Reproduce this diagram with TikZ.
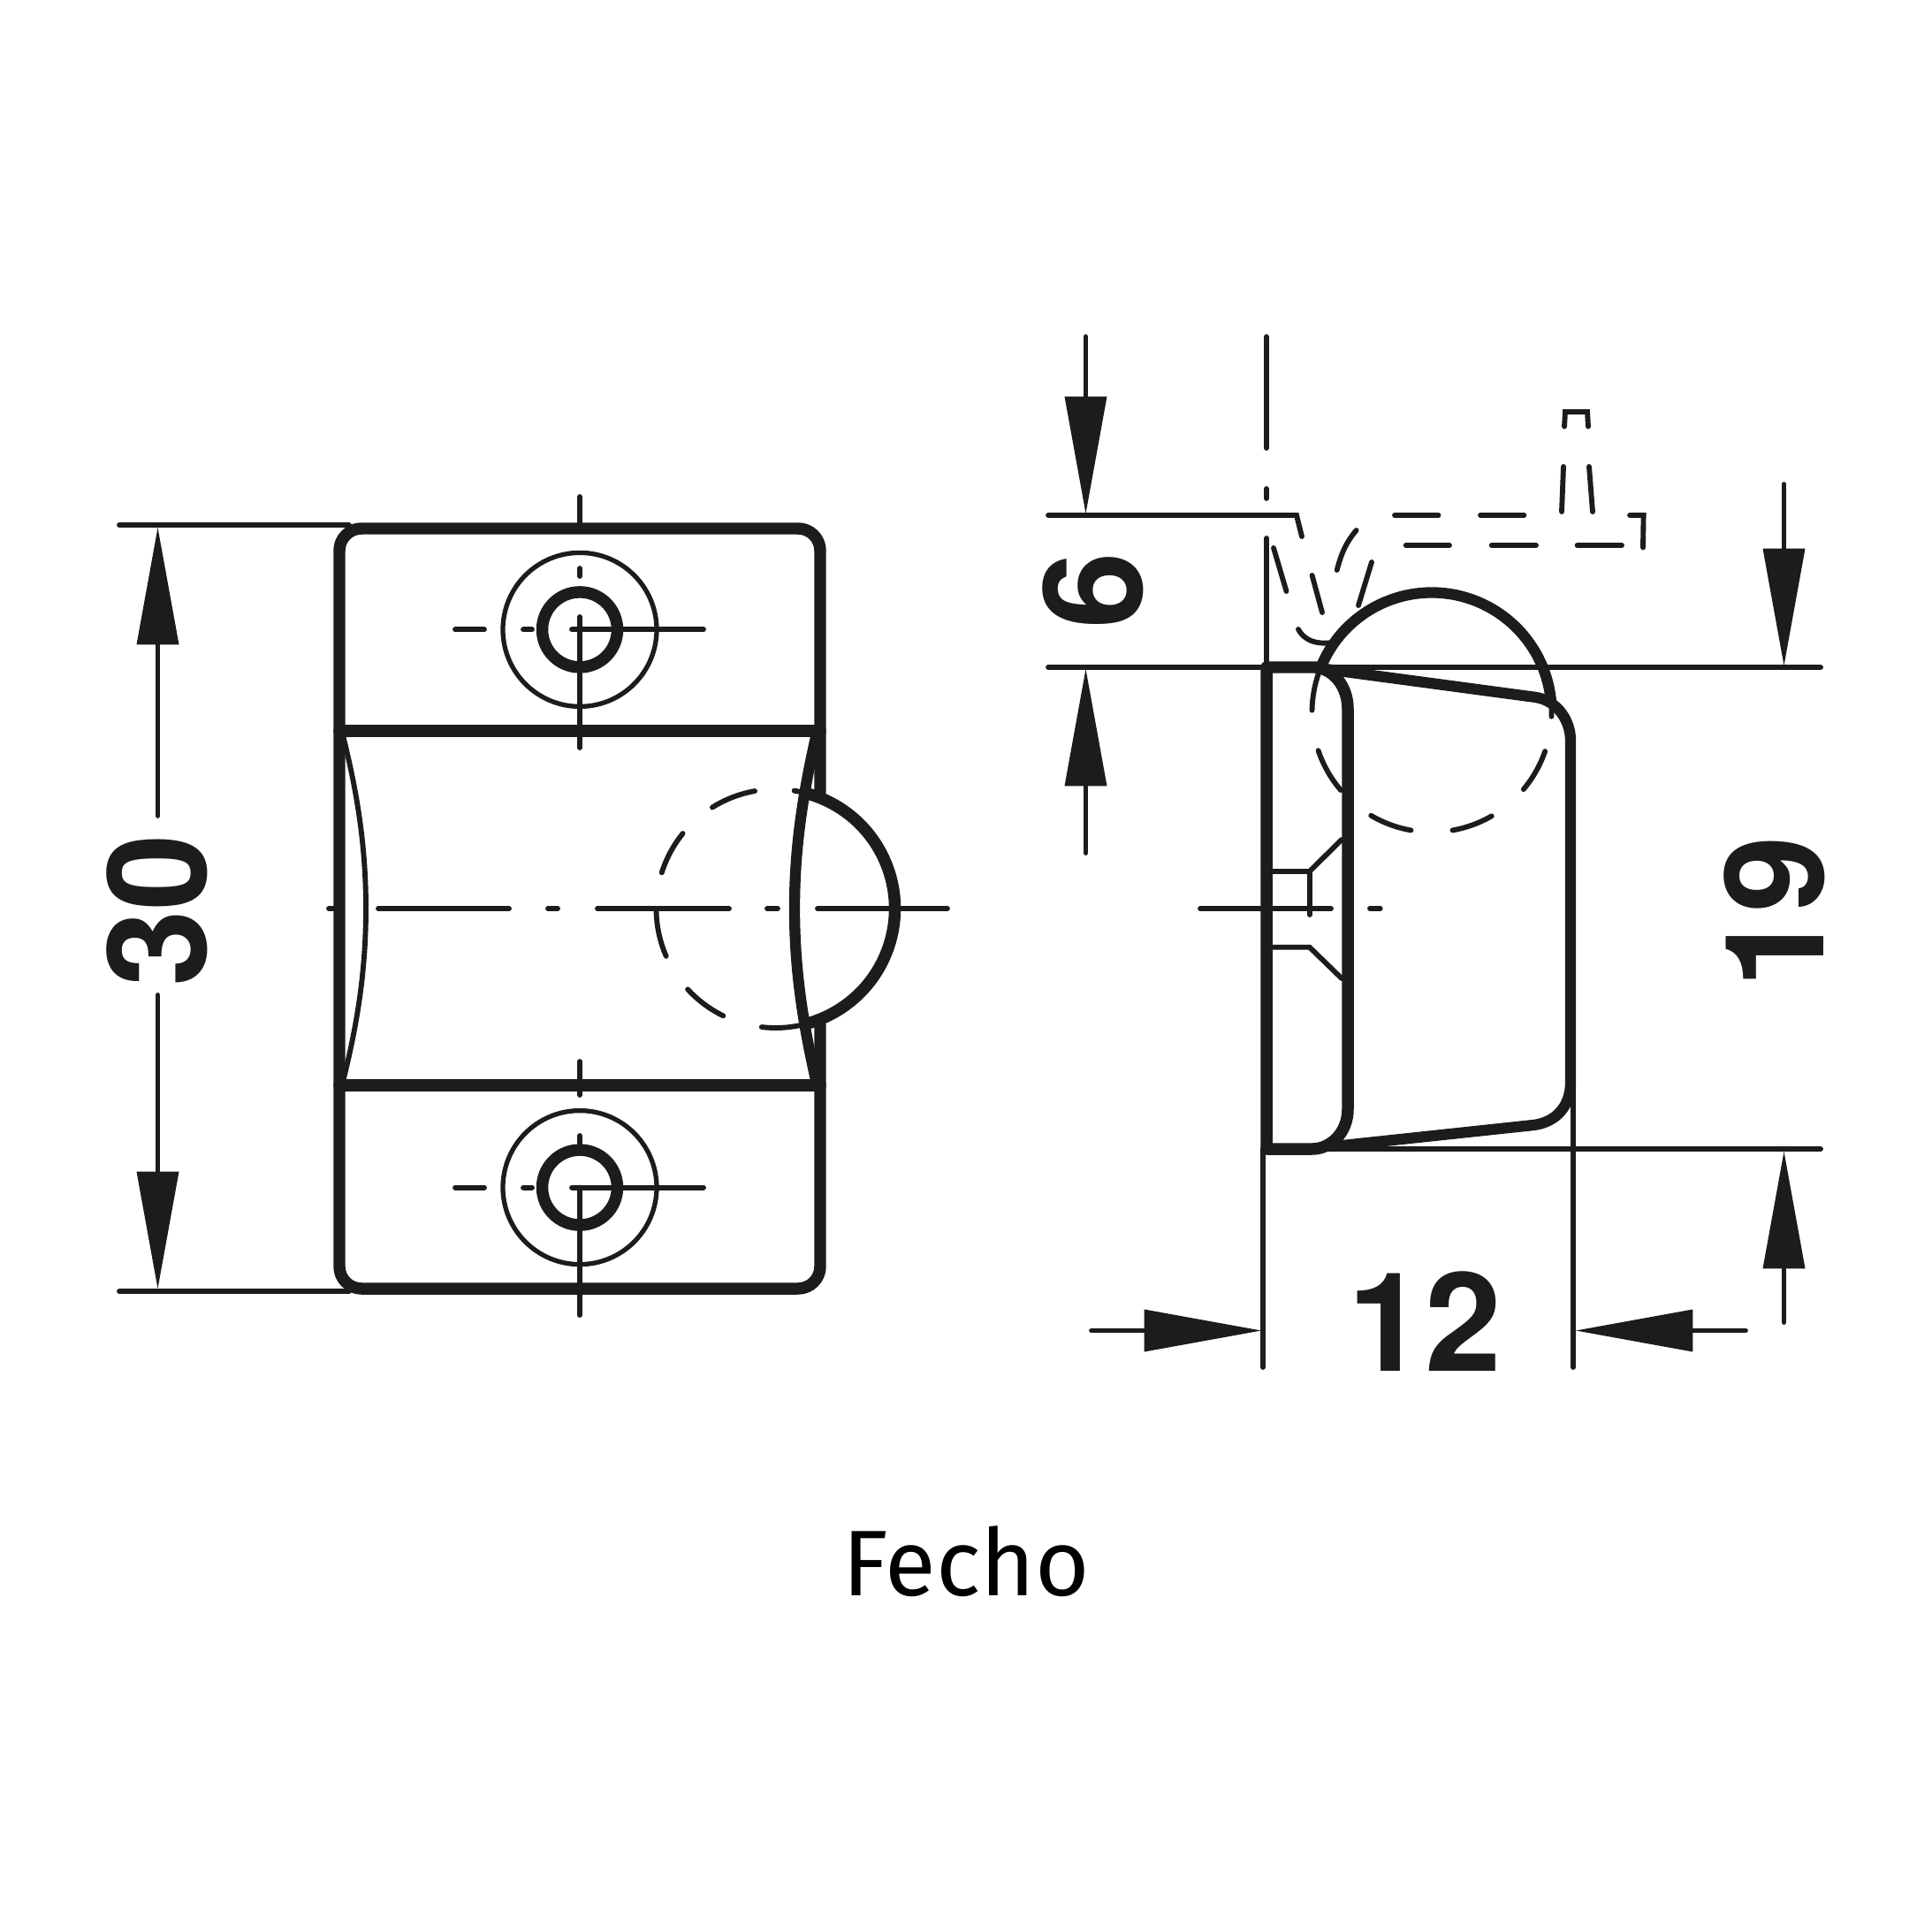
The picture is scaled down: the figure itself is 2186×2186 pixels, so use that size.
\documentclass[tikz,border=0pt]{standalone}
\usepackage{fontspec}
\setmainfont{TeX Gyre Heros}
\newfontfamily\capfont{Fira Sans}
\usetikzlibrary{arrows.meta}
\definecolor{ink}{HTML}{1C1C1F}
\newcommand{\circarc}[6][]{\draw[#1] ({#2+#4*cos(#5)},{#3-#4*sin(#5)}) arc[start angle={-(#5)}, end angle={-(#6)}, radius=#4];}
\tikzset{
  heavy/.style={draw=ink,line width=11.5pt,line cap=round,line join=round},
  thinl/.style={draw=ink,line width=5pt,line cap=round,line join=miter},
  hair/.style={draw=ink,line width=4.5pt},
  dimarrow/.style={draw=ink,line width=5pt,line cap=round,-{Triangle[length=113pt,width=41pt,fill=ink,line width=0pt]}},
  dimnum/.style={text=ink,inner sep=0pt,font=\bfseries\fontsize{133}{133}\selectfont},
}
\begin{document}
\begin{tikzpicture}[x=0.03cm,y=-0.03cm]
\useasboundingbox (0,0) rectangle (2186,2186);
% ---------- front view ----------
\foreach \cy in {712.4,1343.6}{
  \draw[hair] (656,\cy) circle[radius=87];
  \draw[heavy] (656,\cy) circle[radius=42.5];
  \draw[thinl] (515,\cy) -- (548,\cy);
  \draw[thinl] (592,\cy) -- (602,\cy);
  \draw[thinl] (647,\cy) -- (796,\cy);
}
\draw[thinl] (656,562) -- (656,592);
\draw[thinl] (656,643) -- (656,652);
\draw[thinl] (656,698) -- (656,846);
\draw[thinl] (656,1201) -- (656,1239);
\draw[thinl] (656,1285) -- (656,1295);
\draw[thinl] (656,1343.6) -- (656,1488);
\draw[thinl] (372,1028) -- (384,1028);
\draw[thinl] (428,1028) -- (576,1028);
\draw[thinl] (620,1028) -- (631,1028);
\draw[thinl] (676,1028) -- (825,1028);
\draw[thinl] (868,1028) -- (880,1028);
\draw[thinl] (925,1028) -- (1072,1028);
% dashed ball
\foreach \a/\b in {81/77,122/100,141/162.5,181/203.5,222.6/244,263.3/282}{
  \circarc[thinl]{877.5}{1028}{135}{\a}{\b}
}
% crescents
\draw[thinl] (388,832) .. controls (405,900) and (414,960) .. (414,1028) .. controls (414,1096) and (405,1156) .. (388,1224);
\draw[heavy,line width=10.5pt] (924,830) .. controls (908,900) and (899,960) .. (899,1028) .. controls (899,1096) and (908,1156) .. (924,1226);
% body
\draw[heavy] (928,896) -- (928,623) arc[start angle=0,end angle=-90,radius=25] -- (409,598) arc[start angle=270,end angle=180,radius=25] -- (384,1433) arc[start angle=180,end angle=90,radius=25] -- (903,1458) arc[start angle=90,end angle=0,radius=25] -- (928,1160);
\draw[heavy] (384,827) -- (928,827);
\draw[heavy] (384,1228) -- (928,1228);
% ball outline
\circarc[heavy]{877.5}{1028}{135}{73}{-73}
% left dimension
\coordinate (LA) at (135,594); \coordinate (LB) at (395,594);
\coordinate (LC) at (135,1461); \coordinate (LD) at (395,1461);
\draw[thinl] (LA) -- (LB); \draw[thinl] (LC) -- (LD);
\coordinate (L1) at (178.5,923); \coordinate (L2) at (178.5,597);
\coordinate (L3) at (178.5,1126); \coordinate (L4) at (178.5,1458);
\draw[dimarrow] (L1) -- (L2); \draw[dimarrow] (L3) -- (L4);
\node[dimnum,rotate=90] (n30) at (178,1030) {30};
% ---------- side view ----------
\coordinate (R0) at (1186,583); \coordinate (R1) at (1467,583); \coordinate (R2) at (1473,607);
\draw[thinl] (R0) -- (R1) -- (R2);
\coordinate (R3) at (1186,755); \coordinate (R4) at (2060,755);
\draw[thinl] (R3) -- (R4);
\coordinate (R5) at (1429,1300); \coordinate (R6) at (2060,1300);
\draw[thinl] (R5) -- (R6);
\coordinate (R7) at (1429,1300); \coordinate (R8) at (1429,1547);
\draw[thinl] (R7) -- (R8);
\coordinate (R9) at (1780,1225); \coordinate (R10) at (1780,1547);
\draw[thinl] (R9) -- (R10);
\draw[thinl] (1433,381) -- (1433,507);
\draw[thinl] (1433,553) -- (1433,564);
\draw[thinl] (1433,609) -- (1433,757);
% upper dashed position
\draw[thinl] (1441,620) -- (1455.5,669);
\draw[thinl] (1484.6,651) -- (1496,693);
\draw[thinl] (1469,712) .. controls (1474,722) and (1486,730) .. (1507.5,727);
\draw[thinl] (1534.6,600) .. controls (1523,614) and (1518,625) .. (1512.7,645);
\draw[thinl] (1552,636) -- (1537,685);
\draw[thinl] (1578,583) -- (1627.5,583);
\draw[thinl] (1675,583) -- (1724.4,583);
\draw[thinl] (1590.7,617) -- (1640,617);
\draw[thinl] (1687.7,617) -- (1738,617);
\draw[thinl] (1784.6,617) -- (1835,617);
\draw[thinl] (1844,583) -- (1859.6,583) -- (1859,619.5);
\draw[thinl] (1770,482.5) -- (1771,466) -- (1796,466) -- (1797,482.5);
\draw[thinl] (1769,528) -- (1767,579);
\draw[thinl] (1798,528) -- (1802,579);
% screw and axis
\draw[thinl] (1358,1028) -- (1506,1028);
\draw[thinl] (1550,1028) -- (1561.7,1028);
\draw[thinl] (1433,986) -- (1481.7,986) -- (1518,950);
\draw[thinl] (1481.7,986) -- (1481.7,1035);
\draw[thinl] (1433,1071.7) -- (1481.7,1071.7) -- (1518,1107);
% dashed ball, side view
\foreach \a/\b in {179/160.6,198.6/220.5,239.5/260,280/300,320/341,-2/6}{
  \circarc[thinl]{1620}{806}{135.5}{\a}{\b}
}
% housing
\draw[heavy] (1433,755) -- (1488,755) .. controls (1510,757) and (1525,778) .. (1525,802) -- (1525,1255) .. controls (1525,1282) and (1505,1300) .. (1485,1300) -- (1433,1300) -- cycle;
\draw[heavy,line width=10.5pt] (1492,756) -- (1738,789) .. controls (1762,793) and (1777,815) .. (1777,838) -- (1777,1225) .. controls (1777,1252) and (1760,1270) .. (1735,1273) -- (1510,1297);
\circarc[heavy,line width=10.5pt]{1620}{806}{135.5}{157}{6}
% side-view dimensions
\coordinate (S1) at (1228.5,381); \coordinate (S2) at (1228.5,581);
\coordinate (S3) at (1228.5,965); \coordinate (S4) at (1228.5,757);
\draw[dimarrow] (S1) -- (S2); \draw[dimarrow] (S3) -- (S4);
\coordinate (T1) at (2018.5,548); \coordinate (T2) at (2018.5,753);
\coordinate (T3) at (2018.5,1496); \coordinate (T4) at (2018.5,1303);
\draw[dimarrow] (T1) -- (T2); \draw[dimarrow] (T3) -- (T4);
\coordinate (U1) at (1235,1505.5); \coordinate (U2) at (1427,1505.5);
\coordinate (U3) at (1975,1505.5); \coordinate (U4) at (1783,1505.5);
\draw[dimarrow] (U1) -- (U2); \draw[dimarrow] (U3) -- (U4);
\node[dimnum,rotate=90] (n6) at (1237,668) {6};
\node[dimnum,rotate=90] (n19) at (2008,1032) {19};
\node[dimnum] (n12) at (1612,1495) {12};
\node[inner sep=0pt,anchor=base,text=black,font=\capfont\fontsize{90}{90}\selectfont] (cap) at (1093,1805) {Fecho};
\end{tikzpicture}
\end{document}
